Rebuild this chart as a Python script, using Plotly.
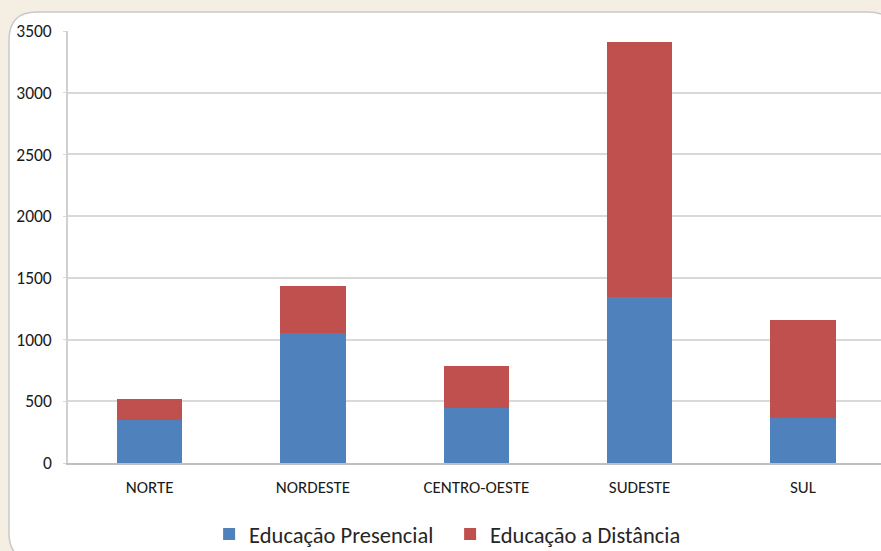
import plotly.graph_objects as go

# Regions and number of courses by modality
regioes = ["NORTE", "NORDESTE", "CENTRO-OESTE", "SUDESTE", "SUL"]
presencial = [345, 1055, 449, 1343, 365]
distancia = [176, 383, 334, 2071, 791]

W, H = 881, 551
ML, MR, MT, MB = 68, 0, 31, 88
PW, PH = W - ML - MR, H - MT - MB


def px(x):
    return (x - ML) / PW


def py(y):
    return (H - MB - y) / PH


# rounded white panel behind the chart
L, T, R, B, r = 9, 12, 896, 561, 28
panel = (
    f"M {px(L)},{py(T + r)} "
    f"Q {px(L)},{py(T)} {px(L + r)},{py(T)} "
    f"L {px(R - r)},{py(T)} "
    f"Q {px(R)},{py(T)} {px(R)},{py(T + r)} "
    f"L {px(R)},{py(B - r)} "
    f"Q {px(R)},{py(B)} {px(R - r)},{py(B)} "
    f"L {px(L + r)},{py(B)} "
    f"Q {px(L)},{py(B)} {px(L)},{py(B - r)} Z"
)

fig = go.Figure()
fig.add_trace(go.Bar(x=regioes, y=presencial, name="Educação Presencial",
                     marker=dict(color="#4F81BD", line=dict(width=0)), width=0.4))
fig.add_trace(go.Bar(x=regioes, y=distancia, name="Educação a Distância",
                     marker=dict(color="#C0504D", line=dict(width=0)), width=0.4))

font = "Carlito, Calibri, Lato, 'Open Sans', sans-serif"

fig.update_layout(
    barmode="stack",
    width=W, height=H,
    margin=dict(l=ML, r=MR, t=MT, b=MB, pad=0, autoexpand=False),
    paper_bgcolor="#F4EEE3",
    plot_bgcolor="rgba(0,0,0,0)",
    font=dict(family=font, color="#1a1a1a"),
    shapes=[dict(type="path", xref="paper", yref="paper", path=panel,
                 fillcolor="white", line=dict(color="#C9C9C9", width=1.5),
                 layer="below")],
    showlegend=True,
    legend=dict(orientation="h", x=0.47, xanchor="center", y=-0.165, yanchor="middle",
                font=dict(size=22.5, color="#262626", family=font),
                entrywidth=196,
                bgcolor="rgba(0,0,0,0)", traceorder="normal"),
    bargap=0.6,
)
fig.update_xaxes(range=[-0.5, 4.478], showline=True, linecolor="#BFBFBF", linewidth=1.5,
                 showgrid=False, ticks="", tickfont=dict(size=17, color="#1a1a1a"),
                 ticklabelstandoff=8, fixedrange=True)
fig.update_yaxes(range=[0, 3500], tickvals=[0, 500, 1000, 1500, 2000, 2500, 3000, 3500],
                 showline=True, linecolor="#D0D0D0", linewidth=1.5,
                 showgrid=True, gridcolor="#D9D9D9", gridwidth=1.5,
                 ticks="outside", ticklen=3, tickcolor="#D9D9D9",
                 tickfont=dict(size=17.5, color="#1a1a1a"), ticklabelstandoff=8,
                 zeroline=False, fixedrange=True)

fig.write_html("out.html")
